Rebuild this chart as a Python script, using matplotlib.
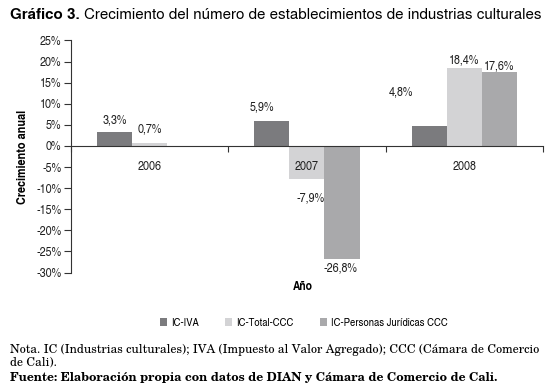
import numpy as np
import matplotlib
matplotlib.use('Agg')
import matplotlib.pyplot as plt

# Data
years = ['2006', '2007', '2008']
series = ['IC-IVA', 'IC-Total-CCC', 'IC-Personas Jurídicas CCC']
ic_iva = [3.3, 5.9, 4.8]
ic_total_ccc = [0.7, -7.9, 18.4]
ic_personas = [0.0, -26.8, 17.6]
yticks = [25, 20, 15, 10, 5, 0, -5, -10, -15, -20, -25, -30]

colors = ['#7b7b7e', '#d3d3d5', '#a9a9ab']
# label offsets in pixels (dx, dy) relative to bar end, per series/year
label_offsets = [
    [(0, 12), (-10, 14), (-28, 34)],
    [(0, 14), (4, -19), (0, 8)],
    [None, (-2, -9), (0, 6)],
]

cond = ['TeX Gyre Heros Cn', 'Liberation Sans Narrow', 'DejaVu Sans']
sans = ['TeX Gyre Heros', 'Liberation Sans', 'DejaVu Sans']
serif = ['TeX Gyre Schola', 'DejaVu Serif']

fig = plt.figure(figsize=(5.54, 3.92), dpi=100)
ax = fig.add_axes([0.128, 0.3046, 0.852, 0.5921])

x = np.arange(len(years))
w = 0.223
values = [ic_iva, ic_total_ccc, ic_personas]
for i, (vals, name, col) in enumerate(zip(values, series, colors)):
    pos = x + (i - 1) * w
    ax.bar(pos, vals, width=w, color=col, label=name, zorder=1)
    for j, v in enumerate(vals):
        off = label_offsets[i][j]
        if off is None:
            continue
        txt = ('%.1f%%' % v).replace('.', ',')
        ax.annotate(txt, (pos[j], v), xytext=(off[0] * 0.72, off[1] * 0.72),
                    textcoords='offset points', ha='center', va='center',
                    fontsize=9.5, family=cond, color='#222222', zorder=4)

ax.set_xlim(-0.5, 2.5)
ax.set_ylim(-30, 25)
ax.set_yticks(yticks)
ax.set_yticklabels(['%d%%' % t for t in yticks], family=cond, fontsize=9.5, color='#222222')

for s in ['top', 'right']:
    ax.spines[s].set_visible(False)
ax.spines['bottom'].set_position(('data', 0))
ax.spines['left'].set_color('#333333')
ax.spines['bottom'].set_color('#333333')

ax.set_xticks([-0.5, 0.5, 1.5, 2.5])
ax.set_xticklabels([])
ax.set_xticks(x, minor=True)
ax.set_xticklabels(years, minor=True, family=cond, fontsize=9.5, color='#222222')
ax.tick_params(axis='x', which='major', direction='out', length=4, color='#333333')
ax.tick_params(axis='x', which='minor', length=0, pad=10.5)
ax.tick_params(axis='y', direction='out', length=5, color='#333333', pad=2)

ax.set_ylabel('Crecimiento anual', family=cond, fontsize=9.5, fontweight='bold', labelpad=5)
fig.text(0.547, 0.268, 'Año', family=cond, fontsize=9, fontweight='bold', ha='center', va='center')

fig.legend(loc='center', bbox_to_anchor=(0.548, 0.176), ncol=3, frameon=False,
           prop={'family': cond, 'size': 8.3}, handlelength=0.65, handleheight=0.65,
           handletextpad=0.3, columnspacing=2.3)

# Title: bold lead-in followed by regular text
t1 = fig.text(0.018, 0.962, 'Gráfico 3.', fontsize=10.9, fontweight='bold', va='center', family=sans)
fig.canvas.draw()
bb = t1.get_window_extent()
fig.text(bb.x1 / fig.bbox.width + 0.008, 0.962,
         'Crecimiento del número de establecimientos de industrias culturales',
         fontsize=10.9, va='center', family=sans)

# Notes
fig.text(0.018, 0.107, 'Nota. IC (Industrias culturales); IVA (Impuesto al Valor Agregado); CCC (Cámara de Comercio',
         fontsize=8.7, va='center', family=serif)
fig.text(0.018, 0.076, 'de Cali).', fontsize=8.7, va='center', family=serif)
fig.text(0.018, 0.036, 'Fuente: Elaboración propia con datos de DIAN y Cámara de Comercio de Cali.',
         fontsize=8.7, va='center', family=serif, fontweight='bold')

fig.savefig('out.png', dpi=100)
